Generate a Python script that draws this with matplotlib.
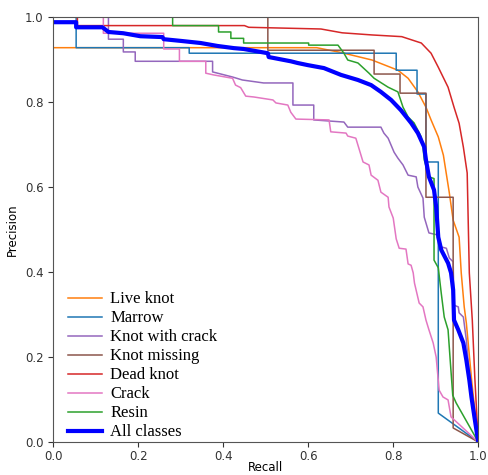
import matplotlib
matplotlib.use("Agg")
import matplotlib.pyplot as plt

# recall / precision points (step curves)
live_r = [0, 0.62, 0.68, 0.75, 0.811, 0.835, 0.858, 0.877, 0.889, 0.906, 0.918,
          0.932, 0.941, 0.955, 0.96, 0.967, 0.972, 0.985, 1.0]
live_p = [0.928, 0.928, 0.916, 0.899, 0.875, 0.856, 0.824, 0.788, 0.758, 0.718, 0.675,
          0.586, 0.522, 0.482, 0.398, 0.318, 0.28, 0.14, 0.0]

marrow_r = [0, 0.054, 0.054, 0.32, 0.32, 0.807, 0.807, 0.856, 0.856, 0.877, 0.877,
            0.906, 0.906, 1.0]
marrow_p = [1.0, 1.0, 0.928, 0.928, 0.915, 0.915, 0.875, 0.875, 0.819, 0.819, 0.659,
            0.659, 0.068, 0.0]

kwc_r = [0, 0.13, 0.13, 0.165, 0.165, 0.193, 0.193, 0.375, 0.375, 0.422, 0.445, 0.495,
         0.564, 0.564, 0.613, 0.613, 0.684, 0.693, 0.771, 0.778, 0.788, 0.802, 0.811,
         0.823, 0.835, 0.854, 0.858, 0.87, 0.873, 0.884, 0.906, 0.913, 0.925, 0.932,
         0.941, 0.943, 0.953, 0.955, 0.965, 0.972, 0.976, 1.0]
kwc_p = [1.0, 1.0, 0.948, 0.948, 0.918, 0.918, 0.896, 0.896, 0.871, 0.859, 0.852, 0.845,
         0.845, 0.793, 0.793, 0.758, 0.753, 0.741, 0.741, 0.727, 0.715, 0.682, 0.668,
         0.652, 0.628, 0.624, 0.6, 0.574, 0.529, 0.492, 0.487, 0.459, 0.456, 0.433,
         0.424, 0.322, 0.318, 0.304, 0.294, 0.24, 0.193, 0.0]

missing_r = [0, 0.505, 0.505, 0.755, 0.755, 0.816, 0.816, 0.877, 0.877, 0.941, 0.941, 1.0]
missing_p = [1.0, 1.0, 0.922, 0.922, 0.866, 0.866, 0.821, 0.821, 0.576, 0.576, 0.033, 0.0]

dead_r = [0, 0.057, 0.057, 0.45, 0.46, 0.63, 0.68, 0.75, 0.82, 0.866, 0.889, 0.906,
          0.929, 0.943, 0.955, 0.965, 0.974, 0.979, 0.986, 0.992, 1.0]
dead_p = [1.0, 1.0, 0.98, 0.98, 0.976, 0.972, 0.963, 0.958, 0.954, 0.939, 0.915, 0.882,
          0.835, 0.788, 0.75, 0.694, 0.633, 0.398, 0.287, 0.15, 0.0]

crack_r = [0, 0.118, 0.118, 0.26, 0.26, 0.297, 0.297, 0.359, 0.359, 0.377, 0.422, 0.429,
           0.441, 0.453, 0.472, 0.517, 0.524, 0.552, 0.559, 0.571, 0.649, 0.653, 0.689,
           0.693, 0.712, 0.719, 0.729, 0.743, 0.748, 0.764, 0.771, 0.788, 0.79, 0.8,
           0.807, 0.814, 0.83, 0.835, 0.842, 0.847, 0.85, 0.861, 0.87, 0.877, 0.884,
           0.894, 0.901, 0.908, 0.917, 0.929, 0.936, 1.0]
crack_p = [1.0, 1.0, 0.962, 0.962, 0.925, 0.925, 0.896, 0.896, 0.868, 0.864, 0.856, 0.84,
           0.834, 0.814, 0.812, 0.805, 0.798, 0.793, 0.776, 0.76, 0.758, 0.73, 0.727,
           0.72, 0.715, 0.692, 0.659, 0.652, 0.628, 0.616, 0.588, 0.576, 0.553, 0.527,
           0.478, 0.456, 0.454, 0.419, 0.416, 0.398, 0.374, 0.327, 0.318, 0.287, 0.264,
           0.233, 0.2, 0.122, 0.106, 0.099, 0.059, 0.0]

resin_r = [0, 0.281, 0.281, 0.389, 0.389, 0.418, 0.418, 0.448, 0.448, 0.601, 0.601, 0.67,
           0.684, 0.693, 0.717, 0.743, 0.755, 0.788, 0.811, 0.823, 0.835, 0.849, 0.866,
           0.87, 0.873, 0.884, 0.896, 0.896, 0.906, 0.913, 0.92, 0.929, 0.934, 0.94,
           0.948, 1.0]
resin_p = [1.0, 1.0, 0.98, 0.98, 0.965, 0.965, 0.95, 0.95, 0.939, 0.939, 0.934, 0.934,
           0.915, 0.899, 0.892, 0.868, 0.856, 0.835, 0.824, 0.788, 0.765, 0.751, 0.718,
           0.694, 0.664, 0.624, 0.62, 0.428, 0.41, 0.35, 0.294, 0.264, 0.193, 0.11,
           0.092, 0.0]

all_r = [0, 0.054, 0.054, 0.116, 0.13, 0.165, 0.205, 0.257, 0.26, 0.3, 0.347, 0.387,
         0.425, 0.448, 0.505, 0.507, 0.559, 0.575, 0.599, 0.637, 0.677, 0.717, 0.748,
         0.771, 0.795, 0.818, 0.842, 0.858, 0.873, 0.877, 0.884, 0.896, 0.901, 0.906,
         0.913, 0.929, 0.936, 0.941, 0.943, 0.953, 0.965, 0.972, 0.979, 0.984, 0.991, 1.0]
all_p = [0.988, 0.988, 0.976, 0.976, 0.965, 0.962, 0.955, 0.953, 0.948, 0.944, 0.939,
         0.932, 0.927, 0.925, 0.915, 0.906, 0.896, 0.892, 0.887, 0.88, 0.864, 0.852,
         0.84, 0.824, 0.805, 0.781, 0.751, 0.727, 0.694, 0.664, 0.624, 0.593, 0.553,
         0.482, 0.452, 0.421, 0.398, 0.358, 0.287, 0.264, 0.233, 0.193, 0.146, 0.106,
         0.059, 0.0]

curves = [
    ("Live knot", live_r, live_p, "tab:orange"),
    ("Marrow", marrow_r, marrow_p, "tab:blue"),
    ("Knot with crack", kwc_r, kwc_p, "tab:purple"),
    ("Knot missing", missing_r, missing_p, "tab:brown"),
    ("Dead knot", dead_r, dead_p, "tab:red"),
    ("Crack", crack_r, crack_p, "tab:pink"),
    ("Resin", resin_r, resin_p, "tab:green"),
]

fig = plt.figure(figsize=(4.88, 4.75), dpi=100)
ax = fig.add_axes([0.109, 0.0695, 0.871, 0.8945])

for name, r, p, c in curves:
    ax.plot(r, p, color=c, lw=1.1, label=name)
ax.plot(all_r, all_p, color="blue", lw=3.0, label="All classes")

ax.set_xlim(0, 1)
ax.set_ylim(0, 1)
ax.set_xticks([0, 0.2, 0.4, 0.6, 0.8, 1.0])
ax.set_yticks([0, 0.2, 0.4, 0.6, 0.8, 1.0])
ax.tick_params(labelsize=8.5, colors="#333333")
ax.tick_params(axis="x", pad=2)
for s in ax.spines.values():
    s.set_color("#555555")
ax.set_xlabel("Recall", fontsize=8.5, labelpad=-1)
ax.set_ylabel("Precision", fontsize=8.5)

ax.legend(loc="lower left", bbox_to_anchor=(0.02, -0.012), frameon=False,
          prop={"family": "Liberation Serif", "size": 12},
          handlelength=2.0, handletextpad=0.5, labelspacing=0.18, borderaxespad=0)

fig.savefig("out.png", dpi=100)
